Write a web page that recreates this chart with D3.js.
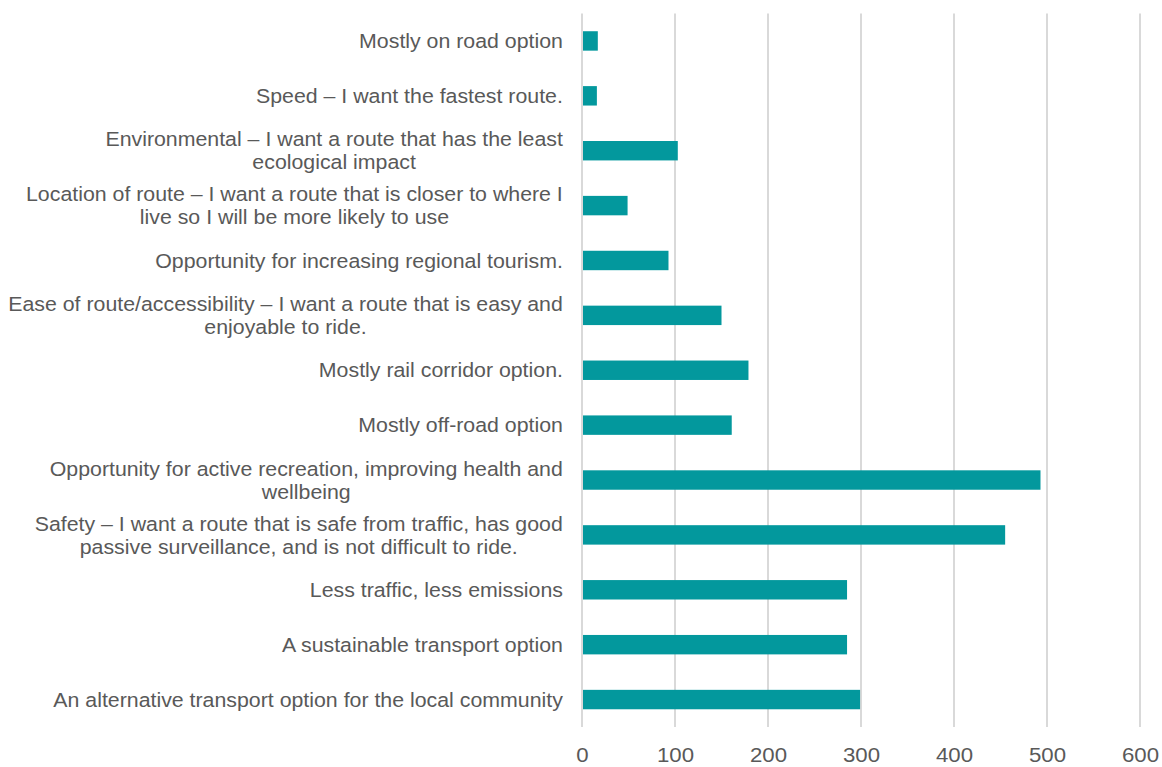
<!DOCTYPE html>
<html>
<head>
<meta charset="utf-8">
<script src="https://cdn.jsdelivr.net/npm/d3@7"></script>
<style>
  html, body { margin: 0; padding: 0; background: #fff; }
  svg { display: block; }
</style>
</head>
<body>
<svg id="chart" width="1162" height="767"></svg>
<script>
// Reasons for route preference (responses), top to bottom
const categories = [
  ["Mostly on road option"],
  ["Speed – I want the fastest route."],
  ["Environmental – I want a route that has the least", "ecological impact"],
  ["Location of route – I want a route that is closer to where I", "live so I will be more likely to use"],
  ["Opportunity for increasing regional tourism."],
  ["Ease of route/accessibility – I want a route that is easy and", "enjoyable to ride."],
  ["Mostly rail corridor option."],
  ["Mostly off-road option"],
  ["Opportunity for active recreation, improving health and", "wellbeing"],
  ["Safety – I want a route that is safe from traffic, has good", "passive surveillance, and is not difficult to ride."],
  ["Less traffic, less emissions"],
  ["A sustainable transport option"],
  ["An alternative transport option for the local community"]
];
const values = [17, 16, 103, 49, 93, 150, 179, 161, 493, 455, 285, 285, 299];
const xTicks = [0, 100, 200, 300, 400, 500, 600];

const svg = d3.select("#chart");
const plot = { left: 582, right: 1140, top: 13.5, bottom: 727 };
const font = "'Liberation Sans', Arial, sans-serif";
const textColor = "#595959";
const labelSize = 19.5;
const stretch = 1.094;      // horizontal text scale for the wide label face

const x = d3.scaleLinear().domain([0, 600]).range([plot.left, plot.right]);
const y = d3.scaleBand()
  .domain(d3.range(categories.length))
  .range([plot.top, plot.bottom])
  .paddingInner(0.646)
  .paddingOuter(0.323);

// vertical gridlines
svg.append("g")
  .selectAll("line")
  .data(xTicks)
  .join("line")
  .attr("x1", d => x(d)).attr("x2", d => x(d))
  .attr("y1", plot.top).attr("y2", plot.bottom)
  .attr("stroke", "#d9d9d9")
  .attr("stroke-width", 2);

// bars
svg.append("g")
  .selectAll("rect")
  .data(values)
  .join("rect")
  .attr("x", x(0) + 1)
  .attr("y", (d, i) => y(i))
  .attr("width", d => x(d) - x(0) - 1)
  .attr("height", y.bandwidth())
  .attr("fill", "#03989d");

// x-axis tick labels
const xAxis = d3.axisBottom(x).tickValues(xTicks).tickSize(0).tickPadding(0);
const gx = svg.append("g")
  .attr("transform", `translate(0, 747)`)
  .call(xAxis);
gx.select(".domain").remove();
gx.selectAll("text")
  .attr("font-family", font)
  .attr("font-size", 21)
  .attr("fill", textColor)
  .attr("dy", "0.71em")
  .attr("transform", "scale(1.06,1)");

// category labels: right-aligned blocks, lines centred within block
const labelRight = 563;
const lineH = 23;
const gy = svg.append("g");
categories.forEach((lines, i) => {
  const cy = y(i) + y.bandwidth() / 2;
  const g = gy.append("g");
  const texts = lines.map((ln, k) =>
    g.append("text")
      .attr("font-family", font)
      .attr("font-size", labelSize)
      .attr("fill", textColor)
      .attr("text-anchor", "middle")
      .attr("dy", "0.37em")
      .text(ln)
  );
  const maxW = d3.max(texts, t => t.node().getComputedTextLength()) * stretch;
  texts.forEach((t, k) => {
    const ty = cy + (k - (lines.length - 1) / 2) * lineH;
    t.attr("transform", `translate(${labelRight - maxW / 2},${ty}) scale(${stretch},1)`);
  });
});
</script>
</body>
</html>
